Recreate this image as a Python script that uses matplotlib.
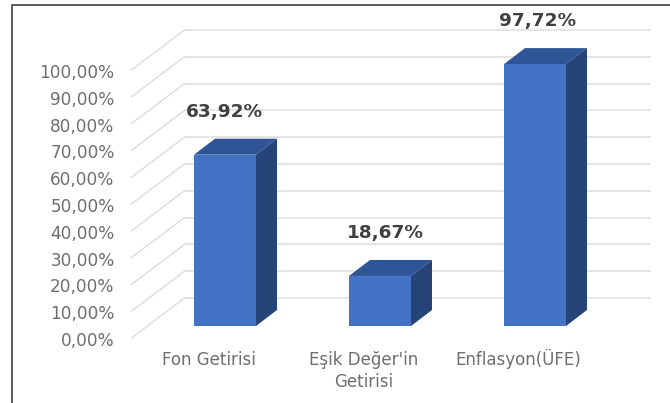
import matplotlib
matplotlib.use('Agg')
import matplotlib.pyplot as plt
from matplotlib.lines import Line2D
from matplotlib.patches import Polygon
from matplotlib.transforms import ScaledTranslation

categories = ['Fon Getirisi', "Eşik Değer'in\nGetirisi", 'Enflasyon(ÜFE)']
values = [63.92, 18.67, 97.72]
value_labels = ['63,92%', '18,67%', '97,72%']
yticks = [0, 10, 20, 30, 40, 50, 60, 70, 80, 90, 100]
ytick_labels = ['%d,00%%' % t for t in yticks]

W, H = 670, 403
bar_width = 0.4

fig = plt.figure(figsize=(W / 100, H / 100), dpi=100)
# the axes is the plane of the bar fronts, floor and back wall are shifted from it
ax = fig.add_axes([147.5 / W, 1 - 326 / H, 465 / W, 268 / H])
ax.set_xlim(-0.5, 2.5)
ax.set_ylim(0, 100)
ax.patch.set_visible(False)
for s in ax.spines.values():
    s.set_visible(False)


def shifted(dx, dy):
    # offset in pixels of the 670x403 picture
    return ax.transData + ScaledTranslation(dx / 100, -dy / 100, fig.dpi_scale_trans)


# gridlines: side wall then back wall
back = shifted(37, -28)
front = shifted(-16, 12)
grid = '#DEDEDE'
for t in yticks:
    ax.plot([-0.5, 2.5], [t, t], color=grid, lw=1.1, transform=back, clip_on=False, zorder=1)
    p0 = front.transform((-0.5, t))
    p1 = back.transform((-0.5, t))
    fig.add_artist(Line2D([p0[0] / W, p1[0] / W], [p0[1] / H, p1[1] / H], color=grid, lw=1.1, zorder=0.5))

# depth of a bar in data units
depth_x = 21 * 3 / 465
depth_y = 16 * 100 / 268

xpos = list(range(len(categories)))
ax.bar(xpos, values, width=bar_width, color='#4472C4', zorder=4)
for x, v in zip(xpos, values):
    l, r = x - bar_width / 2, x + bar_width / 2
    ax.add_patch(Polygon([(l, v), (r, v), (r + depth_x, v + depth_y), (l + depth_x, v + depth_y)],
                         color='#2F5597', lw=0, zorder=3, clip_on=False))
    ax.add_patch(Polygon([(r, 0), (r + depth_x, depth_y), (r + depth_x, v + depth_y), (r, v)],
                         color='#264478', lw=0, zorder=3, clip_on=False))

# value labels, nudged a bit by hand
label_dx = [-1, 5, 3]
for x, v, txt, dx in zip(xpos, values, value_labels, label_dx):
    ax.text(x, v, txt, transform=shifted(dx, -43), ha='center', va='center',
            fontsize=13.3, fontweight='bold', color='#404040', zorder=6, clip_on=False)

ax.set_yticks(yticks)
ax.set_yticklabels(ytick_labels, fontsize=12.2, color='#6E6E6E')
ax.tick_params(axis='y', length=0, pad=0)
ax.set_xticks(xpos)
ax.set_xticklabels(categories, fontsize=12, color='#6E6E6E', linespacing=1.3)
ax.tick_params(axis='x', length=0, pad=18)
for lab in ax.get_yticklabels():
    lab.set_transform(lab.get_transform() + ScaledTranslation(-33 / 100, -13 / 100, fig.dpi_scale_trans))
# the Ü pushes the third label down, lift it back to the same line
xlabel_dy = [0, 0, 2.5]
for lab, dy in zip(ax.get_xticklabels(), xlabel_dy):
    lab.set_transform(lab.get_transform() + ScaledTranslation(-16.5 / 100, dy / 100, fig.dpi_scale_trans))

# outer frame, only top and left are in the picture
frame = '#595959'
fig.add_artist(Line2D([12.5 / W, 12.5 / W, 1], [0, 1 - 5 / H, 1 - 5 / H], color=frame, lw=1.4))

fig.savefig('out.png', dpi=100, facecolor='white')
